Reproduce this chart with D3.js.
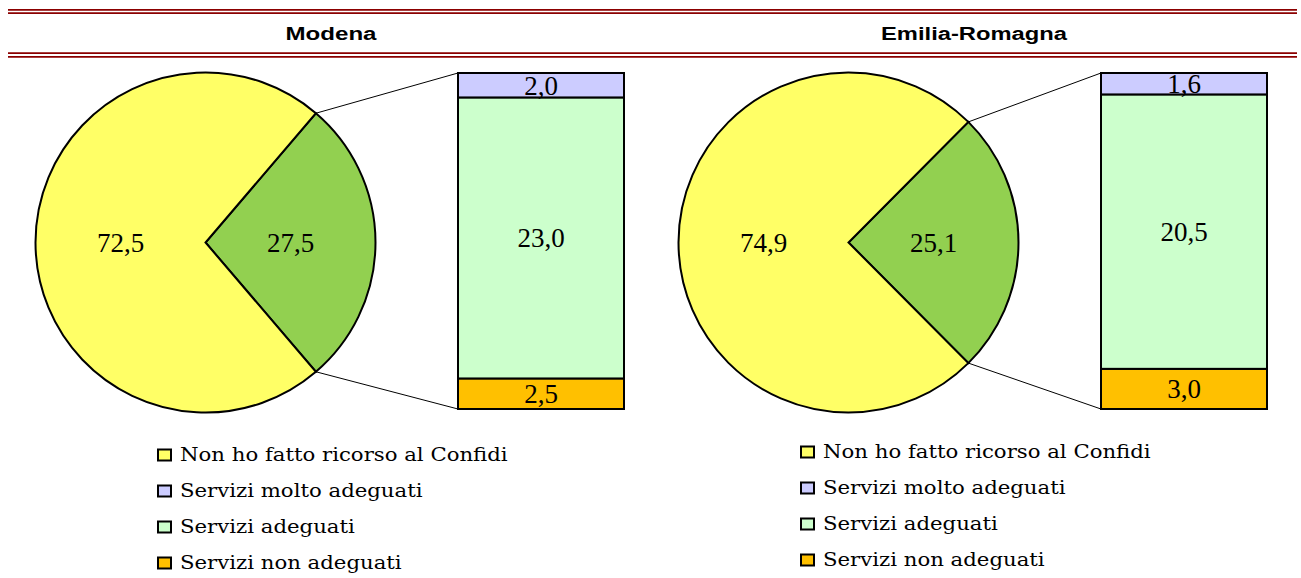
<!DOCTYPE html>
<html lang="it">
  <head>
    <meta charset="utf-8">
    <style>
      body { margin: 0; background: #fff; }
      svg { display: block; }
    </style>
  </head>
  <body>
    <script type="text/javascript" src="https://d3js.org/d3.v7.min.js"></script>
    <script>
      // data (%)
      var regions = ["Modena", "Emilia-Romagna"];
      var nonRicorso = [72.5, 74.9];
      var ricorso = [27.5, 25.1];
      var moltoAdeguati = [2.0, 1.6];
      var adeguati = [23.0, 20.5];
      var nonAdeguati = [2.5, 3.0];
      var legendLabels = ["Non ho fatto ricorso al Confidi", "Servizi molto adeguati",
                          "Servizi adeguati", "Servizi non adeguati"];
      var legendColors = ["#ffff66", "#ccccff", "#ccffcc", "#ffc000"];

      var width = 1301, height = 578;
      var fmt = d3.formatLocale({ decimal: ",", thousands: ".", grouping: [3], currency: ["", "€"] }).format(".1f");

      var svg = d3.select("body").append("svg")
        .attr("width", width)
        .attr("height", height);

      // double rules top and below titles
      var rules = [9.8, 13.2, 53.2, 56.8];
      svg.selectAll("line.rule").data(rules).join("line")
        .attr("class", "rule")
        .attr("x1", 8).attr("x2", 1297)
        .attr("y1", function (d) { return d; })
        .attr("y2", function (d) { return d; })
        .attr("stroke", "#8b0000")
        .attr("stroke-width", 1.8);

      var panelX = [0, 643];
      var legendDy = [0, -3];
      var r = 170;

      regions.forEach(function (name, i) {
        var g = svg.append("g").attr("transform", "translate(" + panelX[i] + ",0)");

        // title, text is horizontally stretched in the original
        g.append("text")
          .attr("x", 331).attr("y", 39.5)
          .attr("text-anchor", "middle")
          .attr("font-family", "Liberation Sans, Arial, sans-serif")
          .attr("font-weight", "bold")
          .attr("font-size", 17.5)
          .attr("textLength", name.length > 8 ? 186 : 91)
          .attr("lengthAdjust", "spacingAndGlyphs")
          .text(name);

        // pie: green slice centered on the right side
        var cx = 205.5, cy = 242.5;
        var f = ricorso[i] / (ricorso[i] + nonRicorso[i]);
        var a0 = Math.PI / 2 - f * Math.PI;
        var pie = d3.pie().sort(null).value(function (d) { return d.v; })
          .startAngle(a0).endAngle(a0 + 2 * Math.PI);
        var arcs = pie([{ v: ricorso[i], c: "#92d050" }, { v: nonRicorso[i], c: "#ffff66" }]);
        var arc = d3.arc().innerRadius(0).outerRadius(r);
        var labelArc = d3.arc().innerRadius(r * 0.5).outerRadius(r * 0.5);

        var pg = g.append("g").attr("transform", "translate(" + cx + "," + cy + ")");
        pg.selectAll("path").data(arcs).join("path")
          .attr("d", arc)
          .attr("fill", function (d) { return d.data.c; })
          .attr("stroke", "#000")
          .attr("stroke-width", 2)
          .attr("stroke-linejoin", "miter");
        pg.selectAll("text").data(arcs).join("text")
          .attr("transform", function (d) { return "translate(" + labelArc.centroid(d) + ")"; })
          .attr("text-anchor", "middle")
          .attr("dy", "0.35em")
          .attr("font-family", "Liberation Serif, Times New Roman, serif")
          .attr("font-size", 27)
          .text(function (d) { return fmt(d.data.v); });

        // bar of pie
        var bx = 458, bw = 166;
        var total = nonAdeguati[i] + adeguati[i] + moltoAdeguati[i];
        var y = d3.scaleLinear().domain([0, total]).range([409, 73]);
        var segs = [
          { v: nonAdeguati[i], c: "#ffc000" },
          { v: adeguati[i], c: "#ccffcc" },
          { v: moltoAdeguati[i], c: "#ccccff" }
        ];
        var acc = 0;
        segs.forEach(function (s) { s.y0 = acc; acc += s.v; s.y1 = acc; });

        g.selectAll("rect.seg").data(segs).join("rect")
          .attr("class", "seg")
          .attr("x", bx).attr("width", bw)
          .attr("y", function (d) { return y(d.y1); })
          .attr("height", function (d) { return y(d.y0) - y(d.y1); })
          .attr("fill", function (d) { return d.c; })
          .attr("stroke", "#000")
          .attr("stroke-width", 2);
        g.selectAll("text.seg").data(segs).join("text")
          .attr("class", "seg")
          .attr("x", bx + bw / 2)
          .attr("y", function (d) { return (y(d.y0) + y(d.y1)) / 2; })
          .attr("dy", "0.35em")
          .attr("text-anchor", "middle")
          .attr("font-family", "Liberation Serif, Times New Roman, serif")
          .attr("font-size", 27)
          .text(function (d) { return fmt(d.v); });

        // connector lines from pie slice edges to the bar
        var pTop = [cx + r * Math.sin(a0), cy - r * Math.cos(a0)];
        var a1 = a0 + 2 * f * Math.PI;
        var pBot = [cx + r * Math.sin(a1), cy - r * Math.cos(a1)];
        g.append("line")
          .attr("x1", pTop[0]).attr("y1", pTop[1])
          .attr("x2", bx).attr("y2", y(total))
          .attr("stroke", "#000").attr("stroke-width", 1);
        g.append("line")
          .attr("x1", pBot[0]).attr("y1", pBot[1])
          .attr("x2", bx).attr("y2", y(0))
          .attr("stroke", "#000").attr("stroke-width", 1);

        // legend
        var lg = g.append("g").attr("transform", "translate(157," + (460.5 + legendDy[i]) + ")");
        var items = lg.selectAll("g").data(legendLabels).join("g")
          .attr("transform", function (d, k) { return "translate(0," + k * 36 + ")"; });
        items.append("rect")
          .attr("x", 1).attr("y", -11)
          .attr("width", 13).attr("height", 11)
          .attr("fill", function (d, k) { return legendColors[k]; })
          .attr("stroke", "#000")
          .attr("stroke-width", 2);
        items.append("text")
          .attr("transform", "translate(23,0) scale(1.18,1)")
          .attr("font-family", "DejaVu Serif, serif")
          .attr("font-size", 18)
          .text(function (d) { return d; });
      });
    </script>
  </body>
</html>
